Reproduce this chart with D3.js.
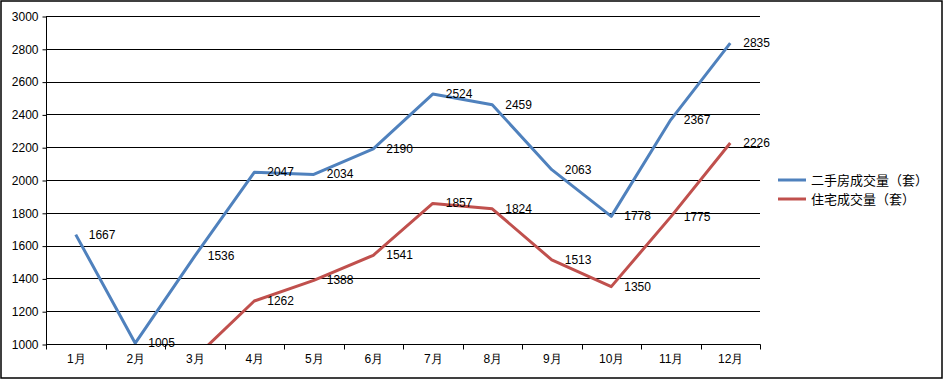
<!DOCTYPE html>
<html><head><meta charset="utf-8">
<script src="https://cdn.jsdelivr.net/npm/d3@7"></script>
<style>body{margin:0;background:#fff;}svg{display:block;}</style>
</head><body>
<svg id="c" width="944" height="380"></svg>
<script>
const months = ["1月","2月","3月","4月","5月","6月","7月","8月","9月","10月","11月","12月"];
const seriesNames = ["二手房成交量（套）","住宅成交量（套）"];
const secondHand = [1667,1005,1536,2047,2034,2190,2524,2459,2063,1778,2367,2835];
const residential = [null,null,915,1262,1388,1541,1857,1824,1513,1350,1775,2226];
const yTicks = [1000,1200,1400,1600,1800,2000,2200,2400,2600,2800,3000];
const colors = ["#4F81BD","#C0504D"];

const svg = d3.select("#c");
const font = "'Liberation Sans', Arial, sans-serif";
svg.append("rect").attr("x",1).attr("y",1).attr("width",941).attr("height",377)
  .attr("fill","#fff").attr("stroke","#000").attr("stroke-width",1.5);

const L=46,R=760,T=16,B=344;
const x = d3.scaleBand().domain(months).range([L,R]);
const y = d3.scaleLinear().domain([1000,3000]).range([B,T]);

// gridlines
svg.append("g").selectAll("line").data(yTicks).join("line")
  .attr("x1",L).attr("x2",R).attr("y1",d=>Math.round(y(d))+0.5).attr("y2",d=>Math.round(y(d))+0.5)
  .attr("stroke","#000").attr("stroke-width",1);

// y axis
const ya = svg.append("g").attr("transform",`translate(${L+0.5},0.5)`)
  .call(d3.axisLeft(y).tickValues(yTicks).tickSize(4).tickPadding(4).tickFormat(d3.format("d")));
ya.select(".domain").attr("d",`M0,${T}V${B}`).attr("stroke","#000");
ya.selectAll("text").attr("font-family",font).attr("font-size",12).attr("fill","#000");

// x axis
const xa = svg.append("g").attr("transform",`translate(0.5,${B+0.5})`)
  .call(d3.axisBottom(x).tickSize(0).tickPadding(10));
xa.select(".domain").attr("d",`M${L},0H${R}`).attr("stroke","#000");
xa.selectAll("text").attr("font-family",font).attr("font-size",12).attr("fill","#000");
const bounds = months.map(m=>x(m)).concat([R]);
xa.selectAll("line.b").data(bounds).join("line").attr("class","b")
  .attr("x1",d=>Math.round(d)).attr("x2",d=>Math.round(d)).attr("y1",0).attr("y2",5).attr("stroke","#000");

// clip
svg.append("clipPath").attr("id","pc").append("rect").attr("x",L).attr("y",T-3).attr("width",R-L+5).attr("height",B-T+3);

const cx = m => x(m)+x.bandwidth()/2;
const line = d3.line().defined(d=>d.v!=null).x(d=>cx(d.m)).y(d=>y(d.v));
[secondHand,residential].forEach((arr,i)=>{
  const data = arr.map((v,k)=>({m:months[k],v}));
  svg.append("path").datum(data).attr("clip-path","url(#pc)")
    .attr("d",line).attr("fill","none").attr("stroke",colors[i]).attr("stroke-width",3)
    .attr("stroke-linejoin","round");
});
[secondHand,residential].forEach((arr,i)=>{
  const data = arr.map((v,k)=>({m:months[k],v})).filter(d=>d.v!=null && d.v>=1000);
  svg.append("g").selectAll("text").data(data).join("text")
    .attr("x",d=>cx(d.m)+13).attr("y",d=>y(d.v)+4)
    .attr("font-family",font).attr("font-size",12).attr("fill","#000")
    .text(d=>d.v);
});

// legend
const lg = svg.append("g");
seriesNames.forEach((n,i)=>{
  const yy = 180 + i*19;
  lg.append("line").attr("x1",778).attr("x2",806).attr("y1",yy).attr("y2",yy)
    .attr("stroke",colors[i]).attr("stroke-width",3);
  lg.append("text").attr("x",811).attr("y",yy+4.5).attr("font-family","'Noto Sans CJK SC', sans-serif")
    .attr("font-size",13).attr("fill","#000").text(n);
});
</script>
</body></html>
